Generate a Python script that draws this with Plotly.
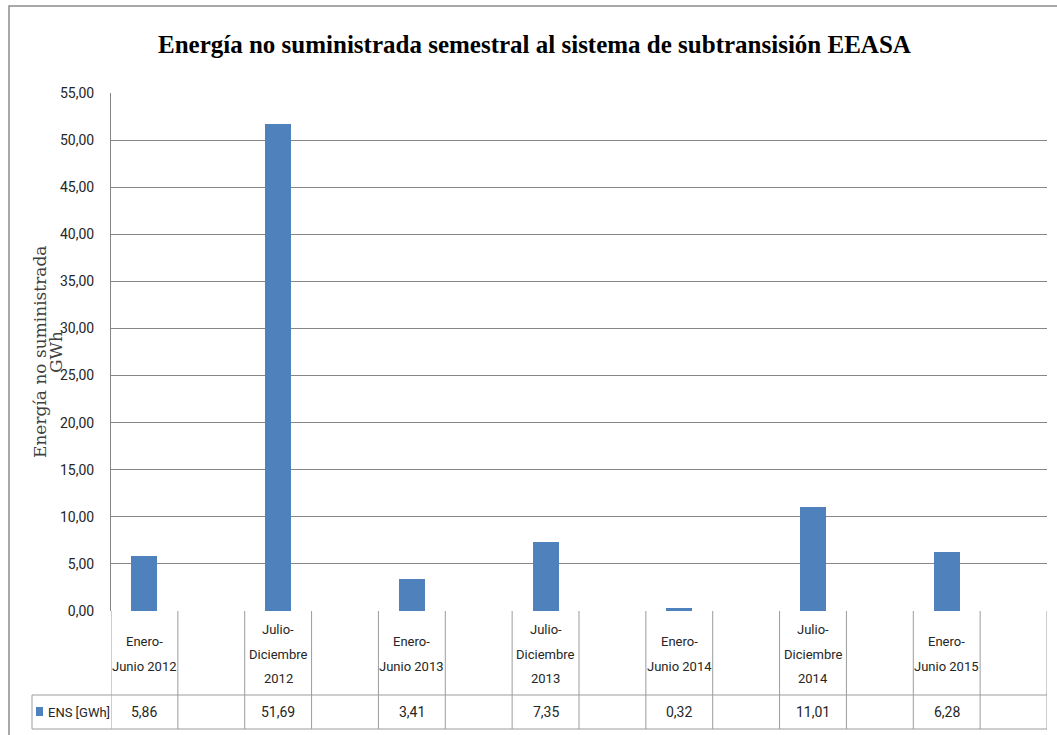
import plotly.graph_objects as go

# ---- data ----
categories = ["Enero-Junio 2012", "", "Julio-Diciembre 2012", "", "Enero-Junio 2013", "",
              "Julio-Diciembre 2013", "", "Enero-Junio 2014", "", "Julio-Diciembre 2014", "",
              "Enero-Junio 2015", ""]
values = [5.86, None, 51.69, None, 3.41, None, 7.35, None, 0.32, None, 11.01, None, 6.28, None]
series_name = "ENS [GWh]"
title_text = "Energía no suministrada semestral al sistema de subtransisión EEASA"
y_title_lines = ["Energía no suministrada", "GWh"]
y_ticks = [0, 5, 10, 15, 20, 25, 30, 35, 40, 45, 50, 55]

# ---- layout constants (pixels) ----
W, H = 1057, 735
L, R, T, B = 111, 1047, 93, 611
PW, PH = R - L, B - T

def px_x(px):
    return (px - L) / PW

def px_y(py):
    return (B - py) / PH

BAR = "#4F81BD"
GRID = "#868686"
TBL = "#9C9C9C"
TXT = "#262626"
NARROW = "Liberation Sans Narrow, Roboto, Liberation Sans, sans-serif"

xs = list(range(len(categories)))

fig = go.Figure()
fig.add_trace(go.Bar(x=xs, y=values, name=series_name, marker_color=BAR,
                     marker_line_width=0, width=0.39, showlegend=False))

shapes = []
annotations = []

# outer chart border
shapes.append(dict(type="rect", xref="paper", yref="paper",
                   x0=px_x(9), x1=px_x(1070), y0=px_y(760), y1=px_y(6),
                   line=dict(color="#8C8C8C", width=1.5), layer="below"))

# table lines
y_hdr = px_y(695)
y_bot = px_y(729)
x_leg = px_x(32)
for i in range(len(categories) + 1):
    shapes.append(dict(type="line", xref="x", yref="paper", x0=i - 0.5, x1=i - 0.5,
                       y0=0, y1=y_bot, line=dict(color=TBL, width=1)))
shapes.append(dict(type="line", xref="paper", yref="paper", x0=x_leg, x1=1,
                   y0=y_hdr, y1=y_hdr, line=dict(color=TBL, width=1)))
shapes.append(dict(type="line", xref="paper", yref="paper", x0=x_leg, x1=1,
                   y0=y_bot, y1=y_bot, line=dict(color=TBL, width=1)))
shapes.append(dict(type="line", xref="paper", yref="paper", x0=x_leg, x1=x_leg,
                   y0=y_hdr, y1=y_bot, line=dict(color=TBL, width=1)))

# legend key
shapes.append(dict(type="rect", xref="paper", yref="paper",
                   x0=px_x(36), x1=px_x(43), y0=px_y(716), y1=px_y(707),
                   fillcolor=BAR, line=dict(width=0)))
annotations.append(dict(text=series_name, xref="paper", yref="paper",
                        x=px_x(46), y=px_y(712), xanchor="left", yanchor="middle",
                        showarrow=False, font=dict(family=NARROW, size=13, color=TXT)))


def wrap(label):
    if not label:
        return []
    head, rest = label.split("-", 1)
    lines = [head + "-"]
    if len(rest) > 10:
        lines += rest.split(" ")
    else:
        lines.append(rest)
    return lines

# category labels + values
for i, (cat, v) in enumerate(zip(categories, values)):
    lines = wrap(cat)
    n = len(lines)
    for k, ln in enumerate(lines):
        py = 654 + (k - (n - 1) / 2) * 24.5
        annotations.append(dict(text=ln, xref="x", yref="paper", x=i, y=px_y(py),
                                xanchor="center", yanchor="middle", showarrow=False,
                                font=dict(family=NARROW, size=13, color=TXT)))
    if v is not None:
        annotations.append(dict(text=f"{v:.2f}".replace(".", ","), xref="x", yref="paper",
                                x=i, y=px_y(712), xanchor="center", yanchor="middle",
                                showarrow=False,
                                font=dict(family=NARROW, size=14, color=TXT)))

# title
annotations.append(dict(text="<b>" + title_text + "</b>", xref="paper", yref="paper",
                        x=px_x(534), y=px_y(45), xanchor="center", yanchor="middle",
                        showarrow=False,
                        font=dict(family="Liberation Serif, DejaVu Serif, serif", size=25,
                                  color="#000000")))

# y axis title (two lines, placed individually)
for line_text, cx in zip(y_title_lines, [40, 56]):
    annotations.append(dict(text=line_text, xref="paper", yref="paper",
                            x=px_x(cx), y=px_y(352), xanchor="center", yanchor="middle",
                            textangle=-90, showarrow=False,
                            font=dict(family="DejaVu Serif, Liberation Serif, serif", size=17,
                                      color="#404040")))

fig.update_layout(
    width=W, height=H,
    margin=dict(l=L, r=W - R, t=T, b=H - B, pad=0),
    paper_bgcolor="white", plot_bgcolor="white",
    separators=",.",
    shapes=shapes, annotations=annotations,
    showlegend=False,
    bargap=0,
    xaxis=dict(range=[-0.5, len(categories) - 0.5], showticklabels=False, showgrid=False,
               zeroline=False, showline=False, ticks="", fixedrange=True),
    yaxis=dict(range=[0, 55], tickvals=y_ticks, tickformat=".2f", showgrid=True,
               gridcolor=GRID, gridwidth=1, zeroline=False, showline=True,
               linecolor=GRID, linewidth=1, ticks="", ticklabelstandoff=13,
               tickfont=dict(family=NARROW, size=14, color=TXT)),
)

fig.write_html("out.html")
